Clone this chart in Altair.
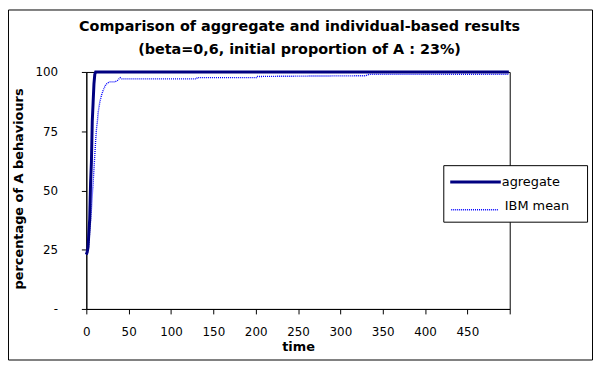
import altair as alt
import pandas as pd

# ---- data ----
agg_time = [0, 1, 2, 3, 4, 5, 6, 7, 8, 9, 10, 11, 499]
agg_pct = [23, 24, 26, 32, 38, 53, 62, 79, 87, 95, 99, 100, 100]

ibm_time = [0, 1, 2, 3, 4, 5, 6, 7, 8, 9, 10, 11, 12, 13, 14, 16, 18, 20, 23, 27, 34, 37, 40, 42,
            130, 131, 201, 202, 273, 330, 334, 499]
ibm_pct = [23, 23.5, 25, 28, 33, 37, 42, 48, 53, 59, 65, 71, 76, 79, 83, 87.5, 90.3, 92.4, 94.7, 95.8,
           95.8, 96.5, 97.6, 97.1, 97.1, 97.6, 97.6, 98.1, 98.3, 98.4, 99.0, 99.0]

x_ticks = [0, 50, 100, 150, 200, 250, 300, 350, 400, 450, 500]
y_ticks = [0, 25, 50, 75, 100]
series_names = ["agregate", "IBM mean"]
title_lines = ["Comparison of aggregate and individual-based results",
               "(beta=0,6, initial proportion of A : 23%)"]

agg_df = pd.DataFrame({"time": agg_time, "pct": agg_pct, "series": series_names[0]})
ibm_df = pd.DataFrame({"time": ibm_time, "pct": ibm_pct, "series": series_names[1]})
one = pd.DataFrame({"k": [0]})

W, H = 427, 239
FONT = "DejaVu Sans"

x_enc = alt.X("time:Q",
              scale=alt.Scale(domain=[0, 500], nice=False, zero=True),
              axis=alt.Axis(values=x_ticks, grid=False,
                            labelExpr="datum.value == 500 ? '' : datum.label",
                            domainColor="black", tickColor="black", tickSize=5,
                            labelPadding=13, labelFont=FONT, labelFontSize=12,
                            labelColor="black", labelFlush=False, labelOverlap=False,
                            title="time", titleFont=FONT, titleFontSize=13,
                            titleFontWeight="bold", titleColor="black",
                            titleX=W / 2, titleY=42, titleBaseline="alphabetic",
                            titleAlign="center"))
y_enc = alt.Y("pct:Q",
              scale=alt.Scale(domain=[0, 100], nice=False),
              axis=alt.Axis(values=y_ticks, grid=False,
                            labelExpr="datum.value == 0 ? '-' : (datum.value == 100 ? '100\u00a0\u00a0' : datum.label)",
                            domainColor="black", tickColor="black", tickSize=5,
                            labelPadding=24, labelFont=FONT, labelFontSize=12,
                            labelColor="black", labelFlush=False, labelOverlap=False,
                            title="percentage of A behaviours", titleFont=FONT,
                            titleFontSize=13, titleFontWeight="bold", titleColor="black",
                            titleX=-68, titleY=H / 2 - 2, titleAngle=270,
                            titleBaseline="middle", titleAlign="center"))

agg_line = alt.Chart(agg_df).mark_line(color="#000080", strokeWidth=3).encode(x=x_enc, y=y_enc)
ibm_line = alt.Chart(ibm_df).mark_line(color="#0000FF", strokeWidth=1.4, strokeDash=[1, 1]).encode(x=x_enc, y=y_enc)

# chart title (two lines)
title1 = alt.Chart(one).mark_text(text=title_lines[0], font=FONT, fontSize=14.5, fontWeight="bold",
                                  color="black", align="center", baseline="alphabetic").encode(
    x=alt.value(215), y=alt.value(-41))
title2 = alt.Chart(one).mark_text(text=title_lines[1], font=FONT, fontSize=14.5, fontWeight="bold",
                                  color="black", align="center", baseline="alphabetic").encode(
    x=alt.value(215), y=alt.value(-18))

# outer chart border
border = alt.Chart(one).mark_rect(filled=False, color="black", strokeWidth=1).encode(
    x=alt.value(-78.5), x2=alt.value(510.5), y=alt.value(-62.5), y2=alt.value(290.5))

# legend box
leg_box = alt.Chart(one).mark_rect(fill="white", stroke="black", strokeWidth=1).encode(
    x=alt.value(360.5), x2=alt.value(505.5), y=alt.value(94.5), y2=alt.value(151.5))
leg_agg = alt.Chart(one).mark_rule(color="#000080", strokeWidth=3).encode(
    x=alt.value(367), x2=alt.value(418), y=alt.value(111))
leg_ibm = alt.Chart(one).mark_rule(color="#0000FF", strokeWidth=1.4, strokeDash=[1, 1]).encode(
    x=alt.value(368), x2=alt.value(416), y=alt.value(139))
leg_agg_t = alt.Chart(one).mark_text(text=series_names[0], font=FONT, fontSize=13, color="black",
                                     align="left", baseline="alphabetic").encode(
    x=alt.value(419), y=alt.value(115))
leg_ibm_t = alt.Chart(one).mark_text(text=series_names[1], font=FONT, fontSize=13, color="black",
                                     align="left", baseline="alphabetic").encode(
    x=alt.value(422), y=alt.value(139))

chart = alt.layer(ibm_line, agg_line, title1, title2, border, leg_box, leg_agg, leg_ibm,
                  leg_agg_t, leg_ibm_t).properties(
    width=W, height=H,
    padding={"left": 79, "top": 63, "right": 85, "bottom": 53},
    autosize=alt.AutoSizeParams(type="none"),
    background="white",
).configure_view(stroke="black", strokeWidth=1)

chart.save("out.html", embed_options={"renderer": "svg", "actions": False})
